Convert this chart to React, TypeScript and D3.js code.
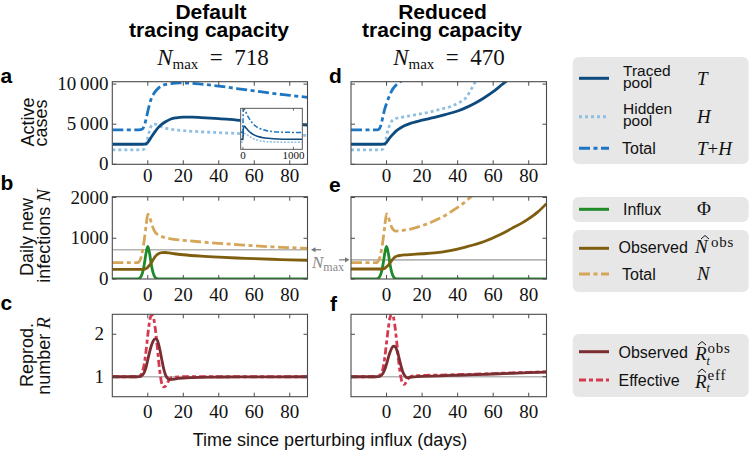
import React from 'react';
import * as d3 from 'd3';

// ---------------- DATA ----------------
const X_DOMAIN: [number, number] = [-20, 90];
const X_TICKS = [0, 20, 40, 60, 80];

const ACTIVE_TICKS = [0, 5000, 10000];
const ACTIVE_TICK_LABELS = ['0', '5\u2009000', '10\u2009000'];
const DAILY_TICKS = [0, 1000, 2000];
const DAILY_TICK_LABELS = ['0', '1000', '2000'];
const R_TICKS = [1, 2];
const R_TICK_LABELS = ['1', '2'];

const NMAX_DEFAULT = 718;
const NMAX_REDUCED = 470;

// Panel a (default) active cases
const tracedDefaultDays = [-20, -3, -1, 0, 1, 2, 4, 6, 8, 10, 13, 16, 20, 25, 30, 40, 50, 60, 70, 80, 90];
const tracedDefault = [2500, 2500, 2550, 2750, 3050, 3400, 4050, 4600, 5000, 5300, 5650, 5800, 5880, 5880, 5830, 5700, 5520, 5350, 5180, 5030, 4900];
const hiddenDefaultDays = [-20, -3, -2, -1, 0, 1, 2, 3, 4, 6, 8, 10, 15, 20, 30, 40, 50, 60, 70, 80, 90];
const hiddenDefault = [1800, 1800, 1900, 2400, 3300, 4200, 4800, 5000, 5000, 4850, 4650, 4500, 4300, 4200, 4050, 3950, 3850, 3780, 3700, 3650, 3600];
const totalDefaultDays = [-20, -5, -3, -2, -1, 0, 1, 2, 4, 6, 8, 10, 14, 18, 25, 30, 40, 50, 60, 70, 80, 90];
const totalDefault = [4300, 4300, 4400, 4800, 5600, 6600, 7500, 8200, 9000, 9500, 9800, 9950, 10100, 10150, 10100, 10000, 9750, 9450, 9150, 8850, 8600, 8350];

// Inset (default, long term)
const insetDays = [-45, -5, 0, 5, 10, 20, 40, 70, 100, 150, 200, 300, 400, 500, 600, 800, 1000, 1175];
const insetTotal = [4300, 4300, 6600, 9500, 9950, 10150, 9750, 9000, 8200, 7200, 6400, 5400, 4900, 4600, 4450, 4300, 4250, 4250];
const insetTraced = [2500, 2500, 2750, 4750, 5300, 5880, 5700, 5200, 4800, 4200, 3750, 3200, 2900, 2750, 2650, 2550, 2520, 2500];
const insetHidden = [1800, 1800, 3300, 4900, 4500, 4200, 3950, 3750, 3500, 3050, 2700, 2250, 2000, 1900, 1850, 1800, 1800, 1800];
const INSET_TICKS = [0, 1000];

// Panel d (reduced) active cases
const tracedReducedDays = [-20, -3, -1, 0, 2, 4, 6, 8, 10, 14, 20, 27, 33, 40, 45, 50, 55, 60, 65, 68, 72];
const tracedReduced = [2500, 2500, 2550, 2750, 3350, 3850, 4250, 4550, 4800, 5150, 5500, 5850, 6200, 6650, 7100, 7650, 8300, 9050, 9950, 10500, 11300];
const hiddenReducedDays = [-20, -3, -2, -1, 0, 1, 2, 3, 5, 8, 12, 17, 25, 30, 36, 40, 45, 48, 50, 53];
const hiddenReduced = [1800, 1800, 1900, 2500, 3500, 4400, 5000, 5400, 5700, 5850, 6000, 6200, 6550, 6850, 7200, 7600, 8400, 9500, 10300, 11300];
const totalReducedDays = [-20, -5, -4, -3, -2, -1, 0, 1, 2, 3, 5, 7, 9, 12];
const totalReduced = [4300, 4300, 4450, 5000, 6000, 6900, 7600, 8200, 8700, 9200, 9800, 10200, 10500, 11000];

// Influx (same in b and e)
const influxDays = [-20, -6, -5, -4, -3, -2, -1, 0, 1, 2, 3, 4, 5, 6, 90];
const influx = [0, 0, 10, 50, 150, 350, 630, 800, 630, 350, 150, 50, 10, 0, 0];

// Panel b (default) daily new infections
const obsNDefaultDays = [-20, -3, -2, -1, 0, 1, 2, 3, 4, 5, 6, 8, 10, 12, 15, 20, 30, 40, 50, 60, 70, 80, 90];
const obsNDefault = [235, 235, 240, 255, 290, 340, 400, 470, 540, 590, 620, 645, 650, 640, 620, 595, 560, 535, 515, 500, 485, 470, 460];
const totalNDefaultDays = [-20, -6, -5, -4, -3, -2, -1, 0, 1, 2, 3, 4, 5, 6, 8, 10, 14, 20, 30, 40, 50, 60, 70, 80, 90];
const totalNDefault = [400, 400, 420, 500, 680, 950, 1300, 1590, 1520, 1380, 1250, 1160, 1110, 1080, 1040, 1010, 980, 950, 910, 875, 845, 815, 790, 770, 750];

// Panel e (reduced)
const obsNReducedDays = [-20, -3, -2, -1, 0, 1, 2, 3, 4, 5, 6, 8, 10, 15, 20, 27, 35, 45, 55, 64, 70, 79, 85, 90];
const obsNReduced = [245, 245, 250, 265, 300, 340, 400, 460, 510, 545, 565, 580, 590, 605, 620, 640, 690, 790, 920, 1090, 1230, 1450, 1640, 1850];
const totalNReducedDays = [-20, -6, -5, -4, -3, -2, -1, 0, 1, 2, 3, 4, 5, 7, 10, 14, 20, 27, 33, 38, 43, 47, 50];
const totalNReduced = [400, 400, 420, 500, 680, 950, 1300, 1600, 1520, 1380, 1260, 1200, 1175, 1180, 1200, 1230, 1310, 1430, 1560, 1700, 1850, 2000, 2120];

// Panel c (default) reproduction number
const obsRDefaultDays = [-20, -6, -4, -3, -2, -1, 0, 1, 2, 3, 4, 5, 6, 7, 8, 9, 10, 11, 12, 14, 17, 20, 25, 35, 50, 90];
const obsRDefault = [1, 1, 1.01, 1.04, 1.1, 1.22, 1.4, 1.58, 1.73, 1.84, 1.89, 1.88, 1.78, 1.6, 1.38, 1.18, 1.04, 0.97, 0.94, 0.94, 0.96, 0.97, 0.98, 0.99, 0.995, 1.0];
const effRDefaultDays = [-20, -6, -5, -4, -3, -2, -1, 0, 1, 2, 3, 4, 5, 6, 7, 8, 9, 10, 11, 12, 13, 15, 20, 90];
const effRDefault = [1, 1, 1.01, 1.04, 1.12, 1.3, 1.6, 1.98, 2.3, 2.45, 2.42, 2.2, 1.85, 1.42, 1.05, 0.82, 0.76, 0.78, 0.85, 0.92, 0.97, 0.99, 1.0, 1.0];

// Panel f (reduced)
const obsRReducedDays = [-20, -6, -4, -3, -2, -1, 0, 1, 2, 3, 4, 5, 6, 7, 8, 9, 10, 11, 12, 14, 20, 30, 40, 50, 60, 70, 80, 90];
const obsRReduced = [1, 1, 1.01, 1.03, 1.08, 1.17, 1.3, 1.45, 1.58, 1.68, 1.72, 1.7, 1.6, 1.45, 1.28, 1.13, 1.04, 0.99, 0.98, 0.99, 1.01, 1.02, 1.035, 1.05, 1.065, 1.08, 1.095, 1.11];
const effRReducedDays = [-20, -6, -5, -4, -3, -2, -1, 0, 1, 2, 3, 4, 5, 6, 7, 8, 9, 10, 11, 12, 13, 15, 20, 30, 40, 50, 60, 70, 80, 90];
const effRReduced = [1, 1, 1.01, 1.03, 1.08, 1.2, 1.45, 1.8, 2.15, 2.4, 2.47, 2.38, 2.1, 1.7, 1.3, 1.0, 0.85, 0.82, 0.87, 0.94, 0.99, 1.02, 1.03, 1.04, 1.05, 1.06, 1.075, 1.09, 1.105, 1.12];

// ---------------- STYLE ----------------
const C = {
  traced: '#0d4a7e',
  hidden: '#8fc0e2',
  totalAC: '#1d76c2',
  influx: '#1f8a2a',
  obsN: '#7f5e10',
  totalN: '#d5a558',
  obsR: '#7a2e31',
  effR: '#d53a50',
  axis: '#4a4a4a',
  ref: '#b4b4b4',
  legendBg: '#e7e7e7',
};
const SANS = '"Liberation Sans", Arial, Helvetica, sans-serif';
const SERIF = '"Liberation Serif", "DejaVu Serif", serif';
const DASH_TOTAL = '11,3.5,4,3.5';
const DASH_DOT = '3,3';
const DASH_EFF = '7,3,4,3';
const LW = 2.8;

type Series = { days: number[]; vals: number[]; color: string; dash?: string; width?: number };

type PanelProps = {
  id: string;
  x0: number; x1: number; y0: number; y1: number;
  yDomain: [number, number];
  yTicks: number[];
  yLabels?: string[];
  yLabelX?: number;
  xLabelY: number;
  refValue?: number;
  series: Series[];
  children?: React.ReactNode;
};

function Panel(p: PanelProps) {
  const x = d3.scaleLinear().domain(X_DOMAIN).range([p.x0, p.x1]);
  const y = d3.scaleLinear().domain(p.yDomain).range([p.y1, p.y0]);
  const tl = 4;
  return (
    <g>
      <defs>
        <clipPath id={p.id}>
          <rect x={p.x0} y={p.y0} width={p.x1 - p.x0} height={p.y1 - p.y0} />
        </clipPath>
      </defs>
      <rect x={p.x0} y={p.y0} width={p.x1 - p.x0} height={p.y1 - p.y0} fill="white" />
      <g clipPath={`url(#${p.id})`}>
        {p.refValue !== undefined && (
          <line x1={p.x0} x2={p.x1} y1={y(p.refValue)} y2={y(p.refValue)} stroke={C.ref} strokeWidth={1.6} />
        )}
        {p.series.map((s, i) => {
          const line = d3
            .line<number>()
            .x((_, k) => x(s.days[k]))
            .y((d) => y(d))
            .curve(d3.curveMonotoneX);
          return (
            <path key={i} d={line(s.vals) || ''} fill="none" stroke={s.color} strokeWidth={s.width ?? LW}
              strokeDasharray={s.dash} strokeLinejoin="round" />
          );
        })}
      </g>
      {p.children}
      <rect x={p.x0} y={p.y0} width={p.x1 - p.x0} height={p.y1 - p.y0} fill="none" stroke={C.axis} strokeWidth={1.1} />
      {X_TICKS.map((t) => (
        <g key={'xt' + t}>
          <line x1={x(t)} x2={x(t)} y1={p.y1} y2={p.y1 - tl} stroke={C.axis} strokeWidth={1} />
          <line x1={x(t)} x2={x(t)} y1={p.y0} y2={p.y0 + tl} stroke={C.axis} strokeWidth={1} />
          <text x={x(t)} y={p.xLabelY} textAnchor="middle" fontFamily={SERIF} fontSize={19} fill="#111">{t}</text>
        </g>
      ))}
      {p.yTicks.map((t, i) => (
        <g key={'yt' + t}>
          <line x1={p.x0} x2={p.x0 + tl} y1={y(t)} y2={y(t)} stroke={C.axis} strokeWidth={1} />
          <line x1={p.x1} x2={p.x1 - tl} y1={y(t)} y2={y(t)} stroke={C.axis} strokeWidth={1} />
          {p.yLabels && (
            <text x={p.yLabelX} y={y(t) + 6} textAnchor="end" fontFamily={SERIF} fontSize={19} fill="#111">{p.yLabels[i]}</text>
          )}
        </g>
      ))}
    </g>
  );
}

function Inset() {
  const ix0 = 240.7, ix1 = 302.3, iy0 = 108.3, iy1 = 149.3;
  const x = d3.scaleLinear().domain([-45, 1175]).range([ix0, ix1]);
  const y = d3.scaleLinear().domain([0, 10300]).range([iy1, iy0]);
  const mk = (vals: number[]) =>
    d3.line<number>().x((_, k) => x(insetDays[k])).y((d) => y(d)).curve(d3.curveMonotoneX)(vals) || '';
  return (
    <g>
      <defs>
        <clipPath id="insetclip">
          <rect x={ix0} y={iy0} width={ix1 - ix0} height={iy1 - iy0} />
        </clipPath>
      </defs>
      <rect x={ix0} y={iy0} width={ix1 - ix0} height={iy1 - iy0} fill="white" />
      <g clipPath="url(#insetclip)">
        <path d={mk(insetHidden)} fill="none" stroke={C.hidden} strokeWidth={1.5} strokeDasharray="2,1.5" />
        <path d={mk(insetTraced)} fill="none" stroke={C.traced} strokeWidth={1.5} />
        <path d={mk(insetTotal)} fill="none" stroke={C.totalAC} strokeWidth={1.5} strokeDasharray="5,2,2,2" />
      </g>
      <rect x={ix0} y={iy0} width={ix1 - ix0} height={iy1 - iy0} fill="none" stroke={C.axis} strokeWidth={0.9} />
      {INSET_TICKS.map((t) => (
        <g key={t}>
          <line x1={x(t)} x2={x(t)} y1={iy1} y2={iy1 - 2.5} stroke={C.axis} strokeWidth={0.8} />
          <line x1={x(t)} x2={x(t)} y1={iy0} y2={iy0 + 2.5} stroke={C.axis} strokeWidth={0.8} />
          <text x={x(t)} y={iy1 + 9.5} textAnchor="middle" fontFamily={SERIF} fontSize={11} fill="#111">{t}</text>
        </g>
      ))}
    </g>
  );
}

function Hat({ cx, cy }: { cx: number; cy: number }) {
  return <path d={`M${cx - 4},${cy + 2} L${cx},${cy - 1.5} L${cx + 4},${cy + 2}`} fill="none" stroke="#111" strokeWidth={1} />;
}

function Sample({ y, color, dash }: { y: number; color: string; dash?: string }) {
  return <line x1={579} x2={609} y1={y} y2={y} stroke={color} strokeWidth={3} strokeDasharray={dash} />;
}

export default function App() {
  const colA = { x0: 112.3, x1: 307.5 };
  const colD = { x0: 351, x1: 546.5 };
  const rowA = { y0: 81.7, y1: 164.3 };
  const rowB = { y0: 196.7, y1: 279 };
  const rowC = { y0: 314.3, y1: 396.7 };
  const yDomA: [number, number] = [0, 10300];
  const yDomB: [number, number] = [0, 2020];
  const yDomC: [number, number] = [0.53, 2.47];
  const yB = d3.scaleLinear().domain(yDomB).range([rowB.y1, rowB.y0]);

  const lblText = { fontFamily: SANS, fontSize: 15.5, fill: '#111' };
  const legText = { fontFamily: SANS, fontSize: 16, fill: '#111' };
  const math = { fontFamily: SERIF, fontSize: 19, fill: '#111' };

  return (
    <svg width={749} height={451} style={{ position: 'absolute', left: 0, top: 0, background: 'white' }}>
      {/* Column titles */}
      <g fontFamily={SANS} fontWeight="bold" fontSize={21} fill="#000" textAnchor="middle">
        <text x={211} y={18.5}>Default</text>
        <text x={209} y={36.5}>tracing capacity</text>
        <text x={442.5} y={18.5}>Reduced</text>
        <text x={442} y={36.5}>tracing capacity</text>
      </g>
      <text x={213} y={65} textAnchor="middle" fontFamily={SERIF} fontSize={23} fill="#111">
        <tspan fontStyle="italic">N</tspan>
        <tspan fontSize={15} dy={4}>max</tspan>
        <tspan dy={-4}>{'\u2002=\u2002' + NMAX_DEFAULT}</tspan>
      </text>
      <text x={449} y={65} textAnchor="middle" fontFamily={SERIF} fontSize={23} fill="#111">
        <tspan fontStyle="italic">N</tspan>
        <tspan fontSize={15} dy={4}>max</tspan>
        <tspan dy={-4}>{'\u2002=\u2002' + NMAX_REDUCED}</tspan>
      </text>

      {/* Panel letters */}
      <g fontFamily={SANS} fontWeight="bold" fontSize={21} fill="#000">
        <text x={0.5} y={83}>a</text>
        <text x={329} y={83}>d</text>
        <text x={0.5} y={190}>b</text>
        <text x={329} y={192}>e</text>
        <text x={0.5} y={310}>c</text>
        <text x={330} y={311}>f</text>
      </g>

      {/* Y axis titles */}
      <g fontFamily={SANS} fontSize={18} fill="#111" textAnchor="middle">
        <text transform="translate(33.5,122) rotate(-90)">Active</text>
        <text transform="translate(47,123) rotate(-90)">cases</text>
        <text transform="translate(33,237) rotate(-90)">Daily new</text>
        <text transform="translate(49.5,236) rotate(-90)">
          infections <tspan fontFamily={SERIF} fontStyle="italic" fontSize={19}>N</tspan>
        </text>
        <text transform="translate(33,355) rotate(-90)">Reprod.</text>
        <text transform="translate(49.5,356) rotate(-90)">
          number <tspan fontFamily={SERIF} fontStyle="italic" fontSize={19}>R</tspan>
        </text>
      </g>

      {/* Row a / d */}
      <Panel id="pa" {...colA} {...rowA} yDomain={yDomA} yTicks={ACTIVE_TICKS} yLabels={ACTIVE_TICK_LABELS} yLabelX={108.5}
        xLabelY={181.5}
        series={[
          { days: hiddenDefaultDays, vals: hiddenDefault, color: C.hidden, dash: DASH_DOT },
          { days: tracedDefaultDays, vals: tracedDefault, color: C.traced },
          { days: totalDefaultDays, vals: totalDefault, color: C.totalAC, dash: DASH_TOTAL },
        ]}>
        <Inset />
      </Panel>
      <Panel id="pd" {...colD} {...rowA} yDomain={yDomA} yTicks={ACTIVE_TICKS} xLabelY={181.5}
        series={[
          { days: hiddenReducedDays, vals: hiddenReduced, color: C.hidden, dash: DASH_DOT },
          { days: tracedReducedDays, vals: tracedReduced, color: C.traced },
          { days: totalReducedDays, vals: totalReduced, color: C.totalAC, dash: DASH_TOTAL },
        ]} />

      {/* Row b / e */}
      <Panel id="pb" {...colA} {...rowB} yDomain={yDomB} yTicks={DAILY_TICKS} yLabels={DAILY_TICK_LABELS} yLabelX={108.5}
        xLabelY={300.5} refValue={NMAX_DEFAULT}
        series={[
          { days: influxDays, vals: influx, color: C.influx },
          { days: obsNDefaultDays, vals: obsNDefault, color: C.obsN },
          { days: totalNDefaultDays, vals: totalNDefault, color: C.totalN, dash: DASH_TOTAL },
        ]} />
      <Panel id="pe" {...colD} {...rowB} yDomain={yDomB} yTicks={DAILY_TICKS} xLabelY={300.5} refValue={NMAX_REDUCED}
        series={[
          { days: influxDays, vals: influx, color: C.influx },
          { days: obsNReducedDays, vals: obsNReduced, color: C.obsN },
          { days: totalNReducedDays, vals: totalNReduced, color: C.totalN, dash: DASH_TOTAL },
        ]} />

      {/* N_max arrows */}
      <g stroke="#777" fill="#777">
        <line x1={321} x2={314} y1={yB(NMAX_DEFAULT)} y2={yB(NMAX_DEFAULT)} strokeWidth={1.2} />
        <path d={`M${311},${yB(NMAX_DEFAULT)} l4.5,-2.6 l0,5.2 z`} stroke="none" />
        <line x1={339} x2={346} y1={yB(NMAX_REDUCED)} y2={yB(NMAX_REDUCED)} strokeWidth={1.2} />
        <path d={`M${349.5},${yB(NMAX_REDUCED)} l-4.5,-2.6 l0,5.2 z`} stroke="none" />
      </g>
      <text x={312} y={268} fontFamily={SERIF} fontSize={17} fill="#888">
        <tspan fontStyle="italic">N</tspan>
        <tspan fontSize={12} dy={3}>max</tspan>
      </text>

      {/* Row c / f */}
      <Panel id="pc" {...colA} {...rowC} yDomain={yDomC} yTicks={R_TICKS} yLabels={R_TICK_LABELS} yLabelX={104}
        xLabelY={417.5} refValue={1}
        series={[
          { days: effRDefaultDays, vals: effRDefault, color: C.effR, dash: DASH_EFF },
          { days: obsRDefaultDays, vals: obsRDefault, color: C.obsR },
        ]} />
      <Panel id="pf" {...colD} {...rowC} yDomain={yDomC} yTicks={R_TICKS} xLabelY={417.5} refValue={1}
        series={[
          { days: effRReducedDays, vals: effRReduced, color: C.effR, dash: DASH_EFF },
          { days: obsRReducedDays, vals: obsRReduced, color: C.obsR },
        ]} />

      {/* X axis title */}
      <text x={330} y={446} textAnchor="middle" fontFamily={SANS} fontSize={18} fill="#111">
        Time since perturbing influx (days)
      </text>

      {/* Legend 1 */}
      <rect x={572.7} y={57} width={176} height={107} rx={6} fill={C.legendBg} />
      <Sample y={78.3} color={C.traced} />
      <text x={623} y={75.5} {...lblText}>Traced</text>
      <text x={623} y={88} {...lblText}>pool</text>
      <text x={697} y={85} {...math} fontStyle="italic">T</text>
      <Sample y={116.7} color={C.hidden} dash={DASH_DOT} />
      <text x={623} y={113.5} {...lblText}>Hidden</text>
      <text x={623} y={126} {...lblText}>pool</text>
      <text x={697} y={123} {...math} fontStyle="italic">H</text>
      <Sample y={148.3} color={C.totalAC} dash={DASH_TOTAL} />
      <text x={622} y={154} {...legText}>Total</text>
      <text x={697} y={155} {...math}>
        <tspan fontStyle="italic">T</tspan>+<tspan fontStyle="italic">H</tspan>
      </text>

      {/* Legend 2 */}
      <rect x={572.7} y={197} width={176} height={25} rx={6} fill={C.legendBg} />
      <Sample y={209.3} color={C.influx} />
      <text x={623} y={215} {...legText}>Influx</text>
      <text x={697} y={215} {...math}>Φ</text>

      {/* Legend 3 */}
      <rect x={572.7} y={230} width={176} height={62} rx={6} fill={C.legendBg} />
      <Sample y={248.3} color={C.obsN} />
      <text x={618.5} y={253} {...legText}>Observed</text>
      <text x={695} y={253} {...math} fontStyle="italic">N</text>
      <Hat cx={705} cy={237} />
      <text x={711} y={246.5} fontFamily={SERIF} fontSize={15} letterSpacing={0.8} fill="#111">obs</text>
      <Sample y={274} color={C.totalN} dash={DASH_TOTAL} />
      <text x={622} y={280} {...legText}>Total</text>
      <text x={697} y={280} {...math} fontStyle="italic">N</text>

      {/* Legend 4 */}
      <rect x={572.7} y={334} width={176} height={63} rx={6} fill={C.legendBg} />
      <Sample y={351.7} color={C.obsR} />
      <text x={618.5} y={358} {...legText}>Observed</text>
      <text x={695} y={360} {...math} fontStyle="italic">R</text>
      <Hat cx={702} cy={343} />
      <text x={707.5} y={353} fontFamily={SERIF} fontSize={15} letterSpacing={0.8} fill="#111">obs</text>
      <text x={706.5} y={364.5} fontFamily={SERIF} fontSize={12} fontStyle="italic" fill="#111">t</text>
      <Sample y={380} color={C.effR} dash={DASH_EFF} />
      <text x={618.5} y={386} {...legText}>Effective</text>
      <text x={695} y={387.5} {...math} fontStyle="italic">R</text>
      <Hat cx={702} cy={370.5} />
      <text x={707.5} y={380} fontFamily={SERIF} fontSize={15} letterSpacing={0.8} fill="#111">eff</text>
      <text x={706.5} y={392} fontFamily={SERIF} fontSize={12} fontStyle="italic" fill="#111">t</text>
    </svg>
  );
}
